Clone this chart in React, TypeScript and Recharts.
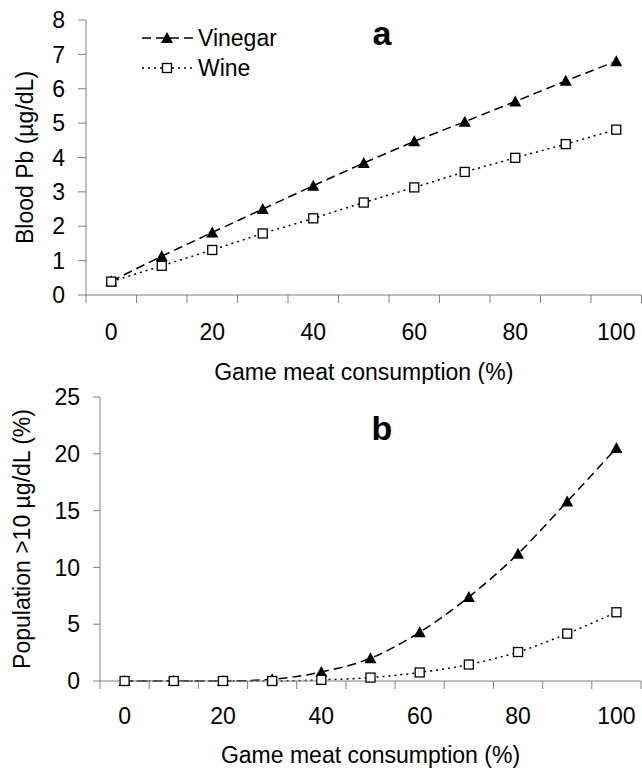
import { LineChart, Line, XAxis, YAxis, Legend, Label } from "recharts";

const consumption = [0, 10, 20, 30, 40, 50, 60, 70, 80, 90, 100];
const vinegarPb = [0.4, 1.13, 1.82, 2.5, 3.18, 3.84, 4.47, 5.04, 5.63, 6.23, 6.8];
const winePb = [0.39, 0.85, 1.31, 1.79, 2.23, 2.69, 3.13, 3.58, 3.99, 4.39, 4.81];
const vinegarOver10 = [0, 0, 0, 0.15, 0.8, 2.0, 4.3, 7.4, 11.2, 15.8, 20.5];
const wineOver10 = [0, 0, 0, 0, 0.1, 0.3, 0.75, 1.45, 2.55, 4.17, 6.05];

// tick marks sit between categories (odd 5s), labels on every 20
const xTicks = [-5, 0, 5, 10, 15, 20, 25, 30, 35, 40, 45, 50, 55, 60, 65, 70, 75, 80, 85, 90, 95, 100, 105];
const xLabels = [0, 20, 40, 60, 80, 100];
const pbTicks = [0, 1, 2, 3, 4, 5, 6, 7, 8];
const popTicks = [0, 5, 10, 15, 20, 25];

const AXIS = "#808080";
const FONT = "'Liberation Sans', Arial, sans-serif";

const series = [
  { key: "vinegar", name: "Vinegar", dash: "9 5", marker: "triangle" },
  { key: "wine", name: "Wine", dash: "2 4", marker: "square" },
];

const dataA = consumption.map((c, i) => ({ x: c, vinegar: vinegarPb[i], wine: winePb[i] }));
const dataB = consumption.map((c, i) => ({ x: c, vinegar: vinegarOver10[i], wine: wineOver10[i] }));

function Marker({ cx, cy, type }: any) {
  if (cx == null || cy == null) return null;
  if (type === "triangle")
    return <polygon points={`${cx - 6},${cy + 5} ${cx + 6},${cy + 5} ${cx},${cy - 6}`} fill="#000" />;
  return <rect x={cx - 4.5} y={cy - 4.5} width={9} height={9} fill="#fff" stroke="#000" strokeWidth={1.3} />;
}

function XTick({ x, y, payload, labelOffset }: any) {
  const v = payload.value;
  if (xLabels.includes(v))
    return (
      <g>
        <text x={x} y={y + labelOffset} textAnchor="middle" fontSize={23} fill="#000">{v}</text>
      </g>
    );
  if (Math.abs(v % 10) === 5)
    return (
      <g>
        <line x1={x} y1={y} x2={x} y2={y + 8} stroke={AXIS} />
      </g>
    );
  return <g />;
}

function LegendBox() {
  return (
    <svg width={170} height={62}>
      {series.map((s, i) => {
        const cy = 15 + i * 30;
        return (
          <g key={s.key}>
            <line x1={2} y1={cy} x2={53} y2={cy} stroke="#000" strokeWidth={1.5} strokeDasharray={s.dash} />
            <Marker cx={27} cy={cy} type={s.marker} />
            <text x={58} y={cy + 8} fontSize={23} fill="#000">{s.name}</text>
          </g>
        );
      })}
    </svg>
  );
}

function Panel({ data, ticks, domain, yLabel, yWidth, yTitleOffset, tickSize, top, right, xHeight, letter, letterY, lineType, labelOffset, titleOffset, showLegend }: any) {
  return (
    <LineChart width={642} height={384} data={data} margin={{ top, right, bottom: 0, left: 0 }}>
      <XAxis
        dataKey="x"
        type="number"
        domain={[-5, 105]}
        ticks={xTicks}
        interval={0}
        height={xHeight}
        stroke={AXIS}
        tickLine={false}
        tickSize={0}
        tickMargin={0}
        tick={(p: any) => <XTick {...p} labelOffset={labelOffset} />}
      >
        <Label value="Game meat consumption (%)" position="insideBottom" offset={titleOffset} fill="#000" fontSize={23} />
      </XAxis>
      <YAxis
        type="number"
        domain={domain}
        ticks={ticks}
        interval={0}
        width={yWidth}
        stroke={AXIS}
        tickSize={tickSize}
        tickMargin={13}
        tick={{ fill: "#000", fontSize: 23 }}
      >
        <Label value={yLabel} angle={-90} position="insideLeft" offset={yTitleOffset} fill="#000" fontSize={23} style={{ textAnchor: "middle" }} />
      </YAxis>
      {showLegend && (
        <Legend
          layout="horizontal"
          verticalAlign="middle"
          align="center"
          content={() => <LegendBox />}
          wrapperStyle={{ left: 140, top: 23, width: 170, height: 62 }}
        />
      )}
      {series.map((s) => (
        <Line
          key={s.key}
          type={lineType}
          dataKey={s.key}
          name={s.name}
          stroke="#000"
          strokeWidth={1.5}
          strokeDasharray={s.dash}
          dot={(p: any) => <Marker key={`${s.key}-${p.index}`} cx={p.cx} cy={p.cy} type={s.marker} />}
          activeDot={false}
          isAnimationActive={false}
        />
      ))}
      <text x={382} y={letterY} textAnchor="middle" fontSize={34} fontWeight="bold" fill="#000">{letter}</text>
    </LineChart>
  );
}

export default function App() {
  return (
    <div style={{ position: "absolute", left: 0, top: 0, width: 642, height: 768, background: "#fff", fontFamily: FONT }}>
      <Panel
        data={dataA}
        ticks={pbTicks}
        domain={[0, 8]}
        yLabel="Blood Pb (µg/dL)"
        yWidth={86}
        yTitleOffset={25}
        tickSize={8}
        top={20}
        right={0.5}
        xHeight={89}
        letter="a"
        letterY={45}
        lineType="linear"
        labelOffset={45}
        titleOffset={4}
        showLegend
      />
      <Panel
        data={dataB}
        ticks={popTicks}
        domain={[0, 25]}
        yLabel="Population >10 µg/dL (%)"
        yWidth={100}
        yTitleOffset={22}
        tickSize={7}
        top={13}
        right={1}
        xHeight={87}
        letter="b"
        letterY={56}
        lineType="monotone"
        labelOffset={43}
        titleOffset={5}
        showLegend={false}
      />
    </div>
  );
}
